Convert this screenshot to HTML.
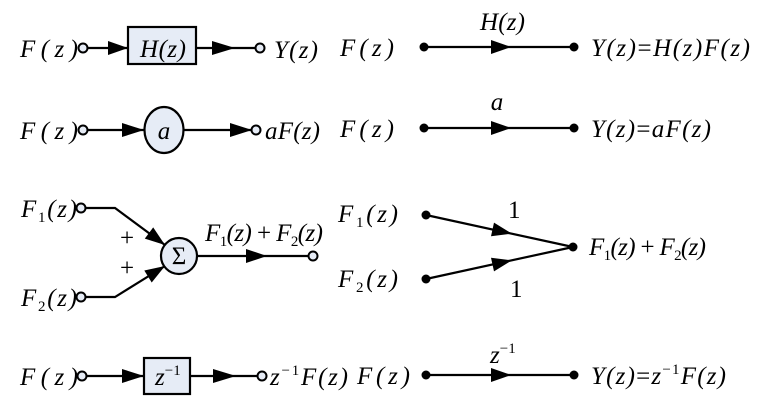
<!DOCTYPE html>
<html><head><meta charset="utf-8"><style>
html,body{margin:0;padding:0;background:#fff}
svg{display:block}
text{font-family:"Liberation Serif",serif;font-size:25px;font-style:italic;fill:#000}
.n{font-style:normal}
</style></head><body>
<svg width="762" height="416" viewBox="0 0 762 416" xmlns="http://www.w3.org/2000/svg">
<g stroke="#000" stroke-width="2.2" fill="none">
<line x1="87" y1="48" x2="128" y2="48"/>
<rect x="128" y="27" width="68" height="37" fill="#e6ecf6"/>
<line x1="196" y1="48" x2="256" y2="48"/>
<line x1="87" y1="130" x2="144" y2="130"/>
<ellipse cx="164" cy="130" rx="19.5" ry="23" fill="#e6ecf6"/>
<line x1="183" y1="130" x2="252" y2="130"/>
<polyline points="84,208 115,208 165,245"/>
<polyline points="84,297 115,297 165,266"/>
<circle cx="179" cy="256" r="18" fill="#e6ecf6"/>
<line x1="197" y1="256" x2="309" y2="256"/>
<line x1="87" y1="376" x2="144" y2="376"/>
<rect x="144" y="358" width="46" height="36" fill="#e6ecf6"/>
<line x1="190" y1="376" x2="258" y2="376"/>
<line x1="424" y1="47" x2="574" y2="47"/>
<line x1="424" y1="128" x2="574" y2="128"/>
<line x1="426" y1="215" x2="573" y2="247"/>
<line x1="426" y1="279" x2="573" y2="247"/>
<line x1="426" y1="375" x2="574" y2="375"/>
</g>
<g fill="#000">
<polygon points="108,41 128,48 108,55"/>
<polygon points="212,41 235,48 212,55"/>
<polygon points="122,123 144,130 122,137"/>
<polygon points="230,123 252,130 230,137"/>
<polygon points="165,245 144.8,238.6 153.2,227.4"/>
<polygon points="165,266 151.7,282.5 144.3,270.5"/>
<polygon points="246,249 267,256 246,263"/>
<polygon points="122,369 144,376 122,383"/>
<polygon points="213,369 236,376 213,383"/>
<polygon points="491,40 511,47 491,54"/>
<polygon points="491,121 511,128 491,135"/>
<polygon points="512,233.7 491,236.2 494,222.6"/>
<polygon points="512,260.3 494,271.4 491,257.8"/>
<polygon points="491,368 511,375 491,382"/>
<circle cx="424" cy="47" r="4.5"/><circle cx="574" cy="47" r="4.5"/>
<circle cx="424" cy="128" r="4.5"/><circle cx="574" cy="128" r="4.5"/>
<circle cx="426" cy="215" r="4.5"/><circle cx="426" cy="279" r="4.5"/><circle cx="573" cy="247" r="4.5"/>
<circle cx="426" cy="375" r="4.5"/><circle cx="574" cy="375" r="4.5"/>
</g>
<g stroke="#000" stroke-width="2" fill="#e6ecf6">
<circle cx="83" cy="48" r="4.5"/><circle cx="260" cy="48" r="4.5"/>
<circle cx="83" cy="130" r="4.5"/><circle cx="256" cy="130" r="4.5"/>
<circle cx="81" cy="208" r="4.5"/><circle cx="81" cy="297" r="4.5"/><circle cx="313" cy="256" r="4.5"/>
<circle cx="82" cy="376" r="4.5"/><circle cx="262" cy="376" r="4.5"/>
</g>
<text x="20" y="57" textLength="58" lengthAdjust="spacing">F(z)</text>
<text x="140" y="57" textLength="46" lengthAdjust="spacing">H(z)</text>
<text x="274" y="58" textLength="44" lengthAdjust="spacing">Y(z)</text>
<text x="20" y="139" textLength="58" lengthAdjust="spacing">F(z)</text>
<text x="164" y="139" text-anchor="middle">a</text>
<text x="265" y="139" textLength="55" lengthAdjust="spacing">aF(z)</text>
<text x="21" y="217" textLength="56" lengthAdjust="spacing">F<tspan class="n" font-size="15" dy="5">1</tspan><tspan dy="-5">(z)</tspan></text>
<text x="21" y="306" textLength="56" lengthAdjust="spacing">F<tspan class="n" font-size="15" dy="5">2</tspan><tspan dy="-5">(z)</tspan></text>
<text class="n" x="120" y="246">+</text>
<text class="n" x="120" y="276">+</text>
<text class="n" x="179" y="264" text-anchor="middle" font-size="21">Σ</text>
<text x="205" y="241" textLength="118" lengthAdjust="spacing">F<tspan class="n" font-size="15" dy="5">1</tspan><tspan dy="-5">(z)</tspan><tspan class="n"> + </tspan>F<tspan class="n" font-size="15" dy="5">2</tspan><tspan dy="-5">(z)</tspan></text>
<text x="20" y="385" textLength="58" lengthAdjust="spacing">F(z)</text>
<text x="155" y="385">z<tspan class="n" font-size="15" dy="-10">−1</tspan></text>
<text x="270" y="385" textLength="78" lengthAdjust="spacing">z<tspan class="n" font-size="15" dy="-10">−1</tspan><tspan dy="10">F(z)</tspan></text>
<text x="340" y="56" textLength="54" lengthAdjust="spacing">F(z)</text>
<text x="480" y="30" textLength="45" lengthAdjust="spacing">H(z)</text>
<text x="591" y="56" textLength="159" lengthAdjust="spacing">Y(z)<tspan class="n">=</tspan>H(z)F(z)</text>
<text x="340" y="137" textLength="54" lengthAdjust="spacing">F(z)</text>
<text x="497" y="110" text-anchor="middle">a</text>
<text x="591" y="137" textLength="120" lengthAdjust="spacing">Y(z)<tspan class="n">=</tspan>aF(z)</text>
<text x="338" y="222" textLength="60" lengthAdjust="spacing">F<tspan class="n" font-size="15" dy="5">1</tspan><tspan dy="-5">(z)</tspan></text>
<text x="338" y="287" textLength="60" lengthAdjust="spacing">F<tspan class="n" font-size="15" dy="5">2</tspan><tspan dy="-5">(z)</tspan></text>
<text class="n" x="508" y="218">1</text>
<text class="n" x="510" y="297">1</text>
<text x="589" y="255" textLength="117" lengthAdjust="spacing">F<tspan class="n" font-size="15" dy="5">1</tspan><tspan dy="-5">(z)</tspan><tspan class="n"> + </tspan>F<tspan class="n" font-size="15" dy="5">2</tspan><tspan dy="-5">(z)</tspan></text>
<text x="357" y="384" textLength="53" lengthAdjust="spacing">F(z)</text>
<text x="490" y="363">z<tspan class="n" font-size="15" dy="-10">−1</tspan></text>
<text x="591" y="384" textLength="135" lengthAdjust="spacing">Y(z)<tspan class="n">=</tspan>z<tspan class="n" font-size="15" dy="-10">−1</tspan><tspan dy="10">F(z)</tspan></text>
</svg>
</body></html>
